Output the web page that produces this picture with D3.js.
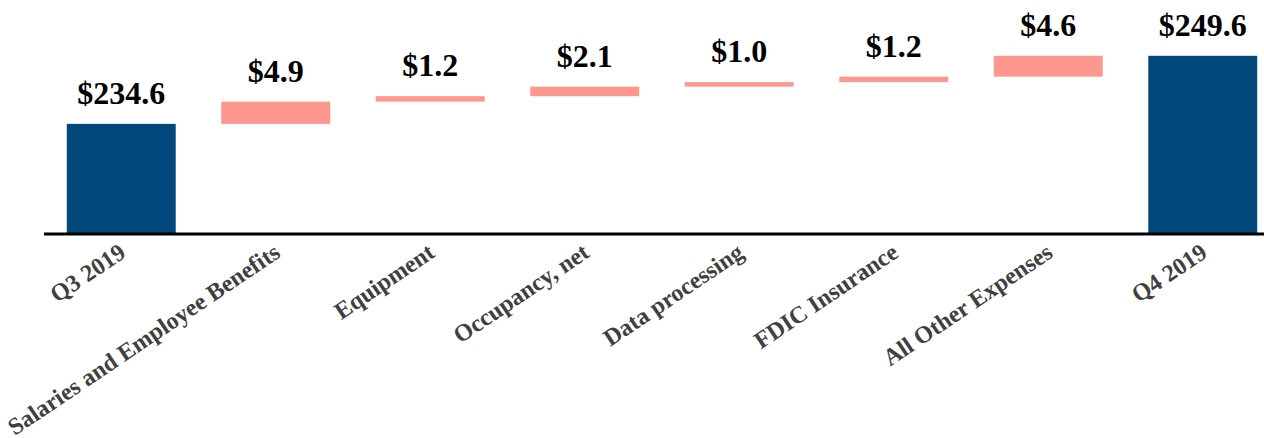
<!DOCTYPE html>
<html>
<head>
<meta charset="utf-8">
<script src="https://cdn.jsdelivr.net/npm/d3@7"></script>
<style>
  html, body { margin: 0; padding: 0; background: #fff; }
  svg { display: block; }
</style>
</head>
<body>
<div id="chart"></div>
<script>
// waterfall data
const categories = ['Q3 2019', 'Salaries and Employee Benefits', 'Equipment', 'Occupancy, net',
    'Data processing', 'FDIC Insurance', 'All Other Expenses', 'Q4 2019'];
const values = [234.6, 4.9, 1.2, 2.1, 1.0, 1.2, 4.6, 249.6];
const isTotal = [true, false, false, false, false, false, false, true];
const valueLabels = ['$234.6', '$4.9', '$1.2', '$2.1', '$1.0', '$1.2', '$4.6', '$249.6'];

const width = 1264, height = 438;
const margin = {top: 0, left: 44, right: -16, bottom: 204};

// build start/end of each step
let running = 0;
const steps = categories.map((c, i) => {
    let start, end;
    if (isTotal[i]) { start = null; end = values[i]; running = values[i]; }
    else { start = running; end = running + values[i]; running = end; }
    return {cat: c, start: start, end: end, total: isTotal[i], label: valueLabels[i]};
});

const svg = d3.select('#chart').append('svg').attr('width', width).attr('height', height);

const x = d3.scaleBand().domain(categories).range([margin.left, width - margin.right])
    .paddingInner(0.295).paddingOuter(0.1475);
const y = d3.scaleLinear().domain([210.33, 249.6]).range([height - margin.bottom, 55.8]);
const base = y.range()[0];

// bars
svg.append('g').selectAll('rect').data(steps).enter().append('rect')
    .attr('x', d => x(d.cat))
    .attr('width', x.bandwidth())
    .attr('y', d => d.total ? y(d.end) : y(Math.max(d.start, d.end)))
    .attr('height', d => d.total ? base - y(d.end) : Math.abs(y(d.start) - y(d.end)))
    .style('fill', d => d.total ? '#02487c' : '#fe978e');

// value labels
svg.append('g').selectAll('text').data(steps).enter().append('text')
    .attr('x', d => x(d.cat) + x.bandwidth() / 2)
    .attr('y', d => y(d.end) - 20)
    .attr('text-anchor', 'middle')
    .style('font-family', '"Liberation Serif", "Times New Roman", serif')
    .style('font-weight', 'bold')
    .style('font-size', '32px')
    .style('fill', '#000')
    .text(d => d.label);

// x axis
const xAxis = svg.append('g')
    .attr('transform', `translate(0, ${base})`)
    .call(d3.axisBottom(x).tickSize(0).tickPadding(0));
xAxis.select('.domain').attr('stroke', '#000').attr('stroke-width', 3)
    .attr('d', `M${margin.left},0H${width + 20}`);
xAxis.selectAll('text')
    .style('font-family', '"Liberation Serif", "Times New Roman", serif')
    .style('font-weight', 'bold')
    .style('font-size', '24px')
    .style('fill', '#404040')
    .style('text-anchor', 'end')
    .attr('dy', 0)
    .attr('transform', 'translate(6, 22) rotate(-34)');
</script>
</body>
</html>
